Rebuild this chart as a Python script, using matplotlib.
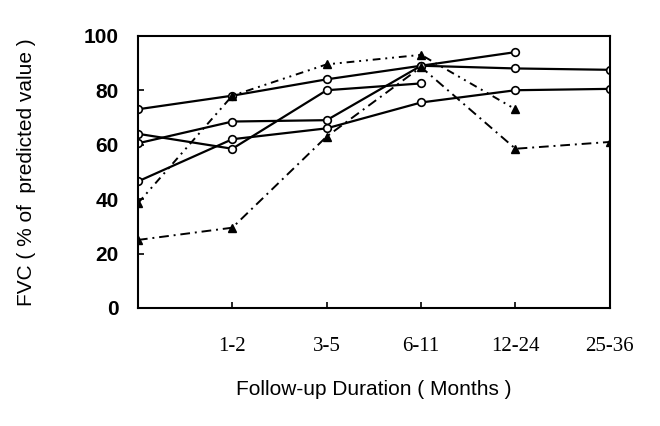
import matplotlib.pyplot as plt

# follow-up periods (position 0 = baseline, unlabeled)
periods = ["", "1-2", "3-5", "6-11", "12-24", "25-36"]

# open-circle series (solid lines)
circ_a = [73, 78, 84, 89, 94]
circ_b = [64, 58.5, 80, 82.5]
circ_c = [60.5, 68.5, 69, 89, 88, 87.5]
circ_d = [46.5, 62, 66, 75.5, 80, 80.5]

# filled-triangle series (broken lines)
tri_a = [38.5, 78, 89.5, 93, 73]
tri_b = [25, 29.5, 63, 88.5, 58.5, 61]

fig = plt.figure(figsize=(6.6, 4.26), dpi=100)
ax = fig.add_axes([0.209, 0.277, 0.715, 0.639])

circ_style = dict(color="black", lw=1.6, marker="o", ms=5.5,
                  mfc="white", mec="black", mew=1.2)
for ys in [circ_d, circ_c, circ_b, circ_a]:
    ax.plot(range(len(ys)), ys, **circ_style)

tri_style = dict(color="black", lw=1.4, marker="^", ms=6,
                 mfc="black", mec="black")
ax.plot(range(len(tri_a)), tri_a, ls=(0, (4, 2.5, 1, 2.5, 1, 2.5)), **tri_style)
ax.plot(range(len(tri_b)), tri_b, ls=(0, (5, 2.5, 1, 2.5)), **tri_style)

ax.set_xlim(0, 5)
ax.set_ylim(0, 100)
ax.set_yticks([0, 20, 40, 60, 80, 100])
ax.set_xticks(range(6))
ax.set_xticklabels(periods, fontfamily="Liberation Serif", fontsize=15)
for lbl in ax.get_yticklabels():
    lbl.set_fontfamily("Liberation Sans")
    lbl.set_fontweight("bold")
    lbl.set_fontsize(15)

ax.tick_params(axis="y", direction="in", length=4, width=1.2, pad=14)
ax.tick_params(axis="x", direction="in", length=4, width=1.2, pad=21)
for s in ax.spines.values():
    s.set_linewidth(1.5)

ax.set_xlabel("Follow-up Duration ( Months )", fontfamily="Liberation Sans",
              fontsize=15, labelpad=17)
ax.set_ylabel("FVC ( % of  predicted value )", fontfamily="Liberation Sans",
              fontsize=15, labelpad=34)

fig.savefig("out.png", dpi=100)
